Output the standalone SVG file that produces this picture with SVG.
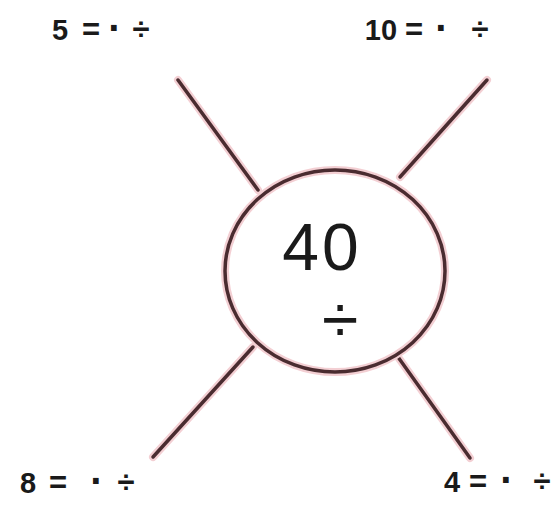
<svg xmlns="http://www.w3.org/2000/svg" width="558" height="508" viewBox="0 0 558 508">
<style>
.halo{stroke:#f3cfd3;stroke-width:8;fill:none;stroke-linecap:round}
.ln{stroke:#4a2c30;stroke-width:3.5;fill:none;stroke-linecap:round}
.lbl{font-family:"Liberation Sans",Arial,sans-serif;font-weight:bold;font-size:29px;fill:#1a1a1a;text-anchor:middle}
.op{font-size:31px}
.dot{font-size:40px}
.big{font-family:"Liberation Sans",Arial,sans-serif;fill:#1a1a1a;text-anchor:middle}
</style>
<rect width="558" height="508" fill="#ffffff"/>
<g id="connectors">
<line class="halo" x1="178" y1="80" x2="258" y2="190"/>
<line class="halo" x1="487" y1="80" x2="400" y2="177"/>
<line class="halo" x1="153" y1="457" x2="253" y2="347"/>
<line class="halo" x1="470" y1="458" x2="398" y2="357"/>
<line class="ln" x1="178" y1="80" x2="258" y2="190"/>
<line class="ln" x1="487" y1="80" x2="400" y2="177"/>
<line class="ln" x1="153" y1="457" x2="253" y2="347"/>
<line class="ln" x1="470" y1="458" x2="398" y2="357"/>
</g>
<g id="center">
<ellipse cx="335" cy="271" rx="110" ry="101" class="halo"/>
<ellipse cx="335" cy="271" rx="110" ry="101" class="ln" fill="#ffffff"/>
<text class="big" x="322" y="270" font-size="66" letter-spacing="3">40</text>
<text class="big" x="340" y="342" font-size="66">÷</text>
</g>
<g id="label-5">
<text class="lbl" y="40"><tspan x="60">5</tspan><tspan class="op" x="91">=</tspan><tspan class="dot" x="115" dy="2">·</tspan><tspan class="op" x="141" dy="-2">÷</tspan></text>
</g>
<g id="label-10">
<text class="lbl" y="40"><tspan x="381">10</tspan><tspan class="op" x="414">=</tspan><tspan class="dot" x="442" dy="2">·</tspan><tspan class="op" x="480" dy="-2">÷</tspan></text>
</g>
<g id="label-8">
<text class="lbl" y="493"><tspan x="28">8</tspan><tspan class="op" x="58">=</tspan><tspan class="dot" x="97" dy="2">·</tspan><tspan class="op" x="126" dy="-2">÷</tspan></text>
</g>
<g id="label-4">
<text class="lbl" y="492"><tspan x="452">4</tspan><tspan class="op" x="478">=</tspan><tspan class="dot" x="507" dy="2">·</tspan><tspan class="op" x="542" dy="-2">÷</tspan></text>
</g>
</svg>
